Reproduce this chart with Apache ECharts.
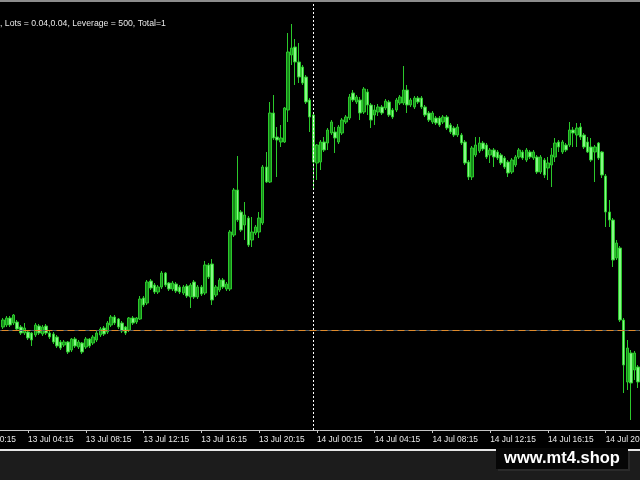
<!DOCTYPE html>
<html>
<head>
<meta charset="utf-8">
<script src="https://cdn.jsdelivr.net/npm/echarts@6/dist/echarts.min.js"></script>
<style>
html,body{margin:0;padding:0;background:#000;}
#c{width:640px;height:480px;}
</style>
</head>
<body>
<div id="c"></div>
<script>
// 15-minute bars, first real bar 13 Jul 02:30 (9 leading empty slots from 13 Jul 00:15)
const leadingEmpty = 9;
const startDay = 13, startHour = 0, startMin = 15, stepMin = 15;
const tickLabels = ['13 Jul 00:15','13 Jul 04:15','13 Jul 08:15','13 Jul 12:15','13 Jul 16:15','13 Jul 20:15',
  '14 Jul 00:15','14 Jul 04:15','14 Jul 08:15','14 Jul 12:15','14 Jul 16:15','14 Jul 20:15'];
const separatorTime = '14 Jul 00:00';
const infoText = ', Lots = 0.04,0.04, Leverage = 500, Total=1';
const levelLine = 100;

const opens = [103,105,112,107,108,103,97,98,97,95,104,96,104,97,96,93,88,85,88,80,91,83,87,83,91,87,90,95,102,98,
105,113,111,107,103,100,112,108,111,132,127,149,145,138,143,157,147,141,146,143,137,144,133,148,133,143,137,165,166,135,
140,150,141,141,195,240,218,205,212,190,197,198,207,263,248,317,293,288,288,320,375,383,368,363,353,330,315,267,268,288,
287,297,298,288,297,308,312,337,328,330,318,338,325,315,318,323,322,328,320,320,327,327,340,325,323,332,332,323,317,308,
312,312,308,313,305,302,295,295,288,268,253,275,279,287,285,275,280,278,275,272,268,258,265,273,278,270,278,272,273,258,
270,262,265,273,288,278,285,285,300,295,303,295,288,283,278,287,278,254,218,210,172,182,110,48,77,60,63];
const closes = [110,112,105,115,101,97,102,92,90,105,97,103,97,93,88,84,82,88,78,91,84,88,78,91,84,93,97,101,96,107,
113,107,103,99,97,112,107,112,131,125,148,142,138,143,157,145,141,147,139,138,143,134,145,133,143,136,165,153,130,143,
150,143,146,198,240,210,200,215,185,198,203,212,263,248,317,292,290,292,322,378,382,368,353,347,328,313,268,285,288,280,
300,308,292,303,310,313,333,330,333,317,341,325,310,320,323,317,329,315,313,330,333,340,325,330,332,328,323,315,310,317,
307,305,313,302,298,295,303,287,267,253,282,285,287,281,273,280,273,272,267,263,257,270,273,280,272,280,273,278,258,273,
255,267,275,287,283,288,280,300,297,302,293,283,278,270,283,272,255,218,210,170,187,110,65,82,47,77,48];
const lows = [101,103,103,105,99,95,95,90,84,93,95,94,95,91,86,82,80,83,76,78,82,81,76,81,82,85,88,93,94,96,
103,105,101,97,95,98,105,106,110,123,125,140,136,136,141,143,139,139,137,136,135,132,122,131,131,134,135,151,125,133,
138,141,139,139,193,208,198,190,183,183,195,192,205,247,247,290,253,283,287,308,365,345,347,345,326,298,240,250,260,278,
280,295,277,286,295,306,310,328,326,310,316,315,302,305,314,315,320,313,311,318,325,325,317,323,321,326,321,313,308,306,
305,303,306,300,296,293,293,285,265,250,250,273,277,279,271,267,263,270,265,261,253,256,263,271,270,268,271,270,256,256,
252,250,243,268,278,276,278,283,283,283,290,281,277,268,248,270,252,203,203,163,170,108,37,40,10,50,42];
const highs = [112,114,114,116,110,105,107,100,98,107,106,105,106,99,98,95,90,90,89,92,93,90,88,93,92,95,99,103,104,109,
115,115,112,109,104,113,114,113,134,134,150,151,147,145,159,158,148,149,148,145,145,146,147,150,145,145,169,167,171,145,
152,152,148,200,242,274,220,228,214,213,205,218,265,278,328,335,303,305,323,397,406,391,387,365,355,332,317,286,290,293,
302,310,303,305,312,315,336,340,335,333,343,341,327,325,326,325,331,330,322,332,335,364,345,332,334,334,334,325,319,319,
314,314,315,315,307,304,306,297,290,270,284,293,293,289,287,282,282,280,277,274,270,272,275,282,280,282,280,280,275,275,
272,273,282,292,290,290,287,308,303,307,307,297,293,292,285,288,279,256,230,212,190,184,112,90,80,79,65];

function two(n){return (n<10?'0':'')+n;}
const categories = [];
{
  const total = leadingEmpty + opens.length;
  let t = startDay*1440 + startHour*60 + startMin;
  for (let i=0;i<total;i++){
    const d = Math.floor(t/1440), m = t%1440;
    categories.push(d+' Jul '+two(Math.floor(m/60))+':'+two(m%60));
    t += stepMin;
  }
}
const candleData = [];
for (let i=0;i<leadingEmpty;i++) candleData.push(['-','-','-','-']);
for (let i=0;i<opens.length;i++) candleData.push([opens[i],closes[i],lows[i],highs[i]]);

const showTick = (idx, val) => tickLabels.indexOf(val) >= 0;
const bandPx = 3.61;

const chart = echarts.init(document.getElementById('c'), null, {renderer:'canvas'});
chart.setOption({
  animation:false,
  backgroundColor:'#000000',
  title:{
    text: infoText, left:0, top:19, padding:0,
    textStyle:{color:'#e8e8e8', fontSize:8.7, fontWeight:'normal', fontFamily:'Liberation Sans'}
  },
  grid:{
    left: 1 - leadingEmpty*bandPx, top:2, width: categories.length*bandPx, bottom:50,
    containLabel:false, outerBoundsMode:'none'
  },
  xAxis:{
    type:'category', data:categories, boundaryGap:true,
    axisLine:{show:true, lineStyle:{color:'#c4c4c4', width:1}},
    axisTick:{show:true, interval:showTick, alignWithLabel:true, length:3, lineStyle:{color:'#c4c4c4'}},
    axisLabel:{show:true, interval:showTick, align:'left', margin:6, color:'#e8e8e8',
      fontSize:8.4, fontFamily:'Liberation Sans'},
    splitLine:{show:false}
  },
  yAxis:{
    type:'value', min:0, max:428, show:false, splitLine:{show:false}
  },
  series:[{
    type:'candlestick',
    data:candleData,
    barWidth:3,
    itemStyle:{
      color:'#17881a', color0:'#86f886',
      borderColor:'#2bc82b', borderColor0:'#2bc82b', borderWidth:1
    },
    markLine:{
      silent:true, symbol:['none','none'], label:{show:false}, animation:false,
      data:[
        {yAxis:levelLine, lineStyle:{color:'#4f5d68', type:'solid', width:1}},
        {yAxis:levelLine, lineStyle:{color:'#e08a2a', type:[7,4], width:1}},
        {xAxis:separatorTime, lineStyle:{color:'#ffffff', type:[2,2], width:1}}
      ]
    }
  }],
  graphic:[
    {type:'rect', shape:{x:0,y:0,width:640,height:2}, style:{fill:'#8c8c8c'}, silent:true},
    {type:'rect', shape:{x:0,y:451,width:640,height:29}, style:{fill:'#1c1c1c'}, silent:true},
    {type:'rect', shape:{x:0,y:449,width:640,height:2}, style:{fill:'#e6e6e6'}, silent:true},
    {type:'rect', shape:{x:498,y:451,width:132,height:20}, style:{fill:'#2a2a2a'}, silent:true},
    {type:'rect', shape:{x:496,y:448,width:132,height:21}, style:{fill:'#060606'}, silent:true},
    {type:'text', x:562, y:458, silent:true,
      style:{text:'www.mt4.shop', fill:'#ffffff', font:'bold 16.5px "Liberation Sans"', align:'center', verticalAlign:'middle'}}
  ]
});
</script>
</body>
</html>
